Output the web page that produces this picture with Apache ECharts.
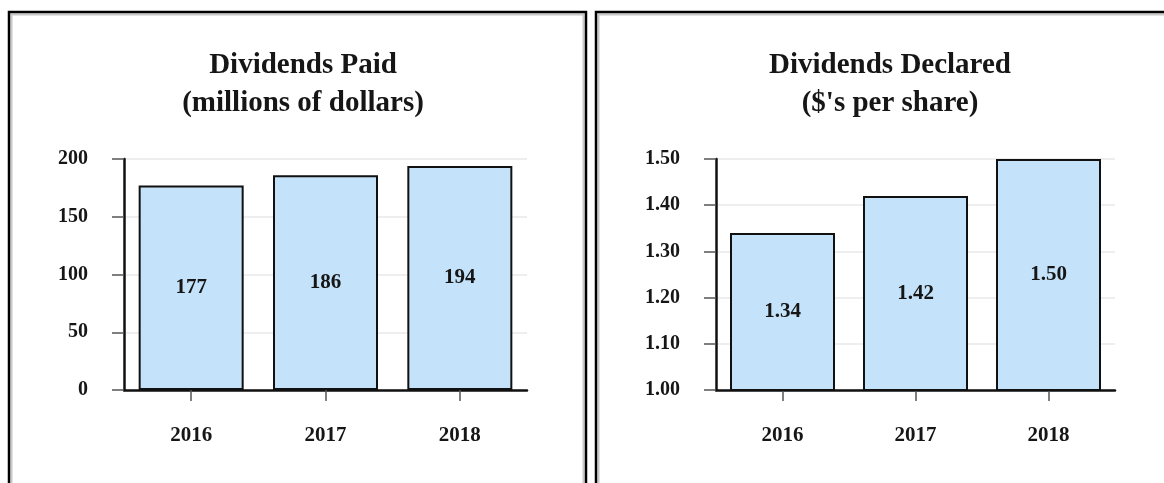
<!DOCTYPE html>
<html>
<head>
<meta charset="utf-8">
<script src="https://cdn.jsdelivr.net/npm/echarts@6/dist/echarts.min.js"></script>
<style>
html,body{margin:0;padding:0;background:#fff;}
#c{width:1164px;height:483px;}
</style>
</head>
<body>
<div id="c"></div>
<script>
// Data
var categories = ['2016', '2017', '2018'];
var paidValues = [177, 186, 194];
var declaredValues = [1.34, 1.42, 1.50];
var paidTitle = 'Dividends Paid\n(millions of dollars)';
var declaredTitle = "Dividends Declared\n($'s per share)";

var FONT = '"Liberation Serif", "Times New Roman", serif';
var TXT = '#161616';
var BAR = '#c4e3fb';

function xAxis(gi) {
  return {
    type: 'category', gridIndex: gi, data: categories,
    axisLine: {show: true, lineStyle: {color: '#111', width: 2.5}},
    axisTick: {show: true, alignWithLabel: true, length: 11, lineStyle: {color: '#555', width: 1.5}},
    axisLabel: {margin: 35, fontFamily: FONT, fontWeight: 'bold', fontSize: 21, color: TXT},
    splitLine: {show: false}
  };
}
function yAxis(gi, min, max, interval, fmt) {
  return {
    type: 'value', gridIndex: gi, min: min, max: max, interval: interval,
    axisLine: {show: true, lineStyle: {color: '#111', width: 2.5}},
    axisTick: {show: true, length: 12, lineStyle: {color: '#555', width: 1.5}},
    axisLabel: {margin: 36, fontFamily: FONT, fontWeight: 'bold', fontSize: 20, color: TXT, formatter: fmt},
    splitLine: {show: true, lineStyle: {color: '#e8e8e8', width: 1.5}}
  };
}
function barSeries(gi, data, fmt) {
  return {
    type: 'bar', xAxisIndex: gi, yAxisIndex: gi, data: data,
    barWidth: 105, clip: true,
    itemStyle: {color: BAR, borderColor: '#111', borderWidth: 2},
    label: {show: true, position: 'inside', fontFamily: FONT, fontWeight: 'bold', fontSize: 21, color: TXT, formatter: fmt},
    emphasis: {disabled: true}
  };
}

var chart = echarts.init(document.getElementById('c'), null, {renderer: 'canvas'});
chart.setOption({
  animation: false,
  backgroundColor: '#fff',
  title: [
    {text: paidTitle, left: 298, top: 42, textAlign: 'center',
     textStyle: {fontFamily: FONT, fontWeight: 'bold', fontSize: 29, lineHeight: 38, color: TXT}},
    {text: declaredTitle, left: 885, top: 42, textAlign: 'center',
     textStyle: {fontFamily: FONT, fontWeight: 'bold', fontSize: 29, lineHeight: 38, color: TXT}}
  ],
  grid: [
    {left: 124, top: 159, width: 403, height: 231, containLabel: false},
    {left: 716, top: 159, width: 399, height: 231, containLabel: false}
  ],
  xAxis: [xAxis(0), xAxis(1)],
  yAxis: [
    yAxis(0, 0, 200, 50, function (v) { return String(v); }),
    yAxis(1, 1.0, 1.5, 0.1, function (v) { return v.toFixed(2); })
  ],
  series: [
    barSeries(0, paidValues, function (p) { return String(p.value); }),
    barSeries(1, declaredValues, function (p) { return p.value.toFixed(2); })
  ],
  graphic: [
    {type: 'rect', silent: true, shape: {x: 11.5, y: 14.5, width: 572, height: 500},
     style: {fill: null, stroke: '#c8c8c8', lineWidth: 2}},
    {type: 'rect', silent: true, shape: {x: 9, y: 12, width: 577, height: 500},
     style: {fill: null, stroke: '#000', lineWidth: 2.5}},
    {type: 'rect', silent: true, shape: {x: 598.5, y: 14.5, width: 600, height: 500},
     style: {fill: null, stroke: '#c8c8c8', lineWidth: 2}},
    {type: 'rect', silent: true, shape: {x: 596, y: 12, width: 600, height: 500},
     style: {fill: null, stroke: '#000', lineWidth: 2.5}}
  ]
});
</script>
</body>
</html>
